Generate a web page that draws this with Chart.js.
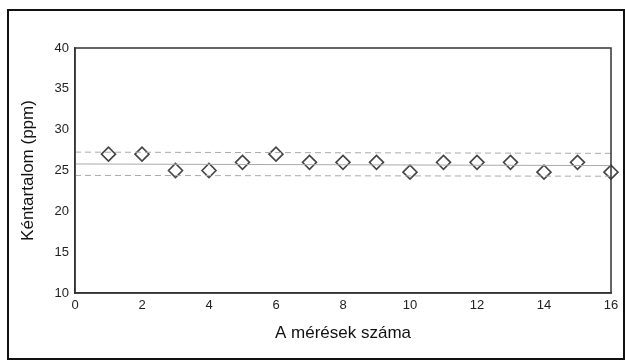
<!DOCTYPE html>
<html><head><meta charset="utf-8">
<script src="https://cdn.jsdelivr.net/npm/chart.js@4"></script>
<style>html,body{margin:0;padding:0;background:#fff}#wrap{width:625px;height:360px;position:relative}</style>
</head><body><div id="wrap"><canvas id="c" width="625" height="360"></canvas></div>
<script>
const measurements = [1,2,3,4,5,6,7,8,9,10,11,12,13,14,15,16];
const sulfurPpm = [27,27,25,25,26,27,26,26,26,24.8,26,26,26,24.8,26,24.8];
const lineX = [0,16];
const upperLimit = [27.25,27.1];
const meanLine = [25.8,25.6];
const lowerLimit = [24.4,24.3];
const xTicks = [0,2,4,6,8,10,12,14,16];
const yTicks = [10,15,20,25,30,35,40];

const pts = (xs, ys) => xs.map((x,i)=>({x, y: ys[i]}));
const tickFont = {family:"'Liberation Sans',Arial,sans-serif", size:13};
const frame = {
  id:'frame',
  afterDraw(ch){
    const {ctx, chartArea:a} = ch;
    ctx.save();
    ctx.strokeStyle='#333'; ctx.lineWidth=1.5;
    ctx.strokeRect(a.left, a.top, a.right-a.left, a.bottom-a.top);
    ctx.strokeStyle='#111'; ctx.lineWidth=2;
    ctx.strokeRect(8, 10, 616, 349);
    ctx.restore();
  }
};
new Chart(document.getElementById('c'), {
  type:'scatter',
  data:{datasets:[
    {type:'line', data:pts(lineX, upperLimit), borderColor:'#aaa', borderWidth:1, borderDash:[6,4], pointRadius:0},
    {type:'line', data:pts(lineX, meanLine), borderColor:'#aaa', borderWidth:1, pointRadius:0},
    {type:'line', data:pts(lineX, lowerLimit), borderColor:'#aaa', borderWidth:1, borderDash:[6,4], pointRadius:0},
    {data:pts(measurements, sulfurPpm), pointStyle:'rectRot', pointRadius:7, borderColor:'#444', borderWidth:1.6, backgroundColor:'#fff', clip:false}
  ]},
  options:{
    responsive:false, animation:false, devicePixelRatio:1,
    layout:{padding:{left:0, right:14, top:48, bottom:0}},
    plugins:{legend:{display:false}, tooltip:{enabled:false}},
    scales:{
      x:{type:'linear', min:0, max:16,
        afterBuildTicks(s){ s.ticks = xTicks.map(v=>({value:v})); },
        afterFit(s){ s.height = 67; },
        grid:{display:false, drawTicks:true, tickLength:4},
        border:{display:true, color:'#333', width:1.5},
        ticks:{color:'#222', font:tickFont, padding:1, maxRotation:0},
        title:{display:true, text:'A mérések száma', color:'#111', font:{family:"'Liberation Sans',Arial,sans-serif", size:17}, padding:{top:0, bottom:16}}
      },
      y:{type:'linear', min:10, max:40,
        afterBuildTicks(s){ s.ticks = yTicks.map(v=>({value:v})); },
        afterFit(s){ s.width = 75; },
        grid:{display:false, drawTicks:true, tickLength:4},
        border:{display:true, color:'#333', width:1.5},
        ticks:{color:'#222', font:tickFont, padding:2},
        title:{display:true, text:'Kéntartalom (ppm)', color:'#111', font:{family:"'Liberation Sans',Arial,sans-serif", size:17}, padding:{top:18,bottom:0}}
      }
    }
  },
  plugins:[frame]
});
</script></body></html>
